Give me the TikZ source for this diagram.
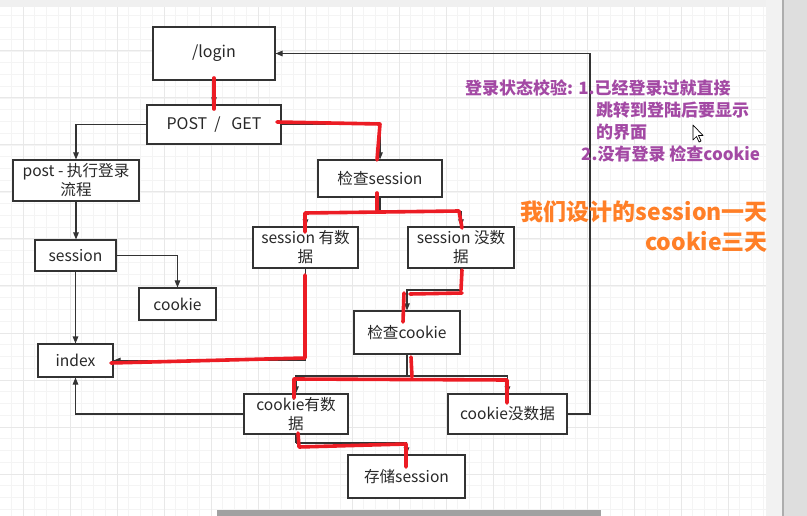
\documentclass[tikz,border=0pt]{standalone}
\usepackage{fontspec}
\setmainfont{Noto Sans CJK SC}
\usetikzlibrary{arrows.meta,calc}
\definecolor{boxc}{RGB}{51,51,51}
\definecolor{txtc}{RGB}{40,40,40}
\definecolor{linec}{RGB}{51,51,51}
\definecolor{hred}{RGB}{236,28,36}
\definecolor{purp}{RGB}{163,73,164}
\definecolor{orng}{RGB}{255,127,39}
\definecolor{gminor}{RGB}{244,244,244}
\definecolor{gmajor}{RGB}{232,232,232}
\begin{document}
\begin{tikzpicture}[x=1pt,y=-1pt,
  box/.style={draw=boxc, line width=1.1pt, fill=white, inner sep=0pt, align=center,
    font=\fontsize{15.6}{19}\selectfont, text=txtc},
  conn/.style={draw=linec, line width=1.1pt, -{Triangle[length=7pt,width=5.5pt]}},
  plain/.style={draw=linec, line width=1.1pt},
  hl/.style={draw=hred, line width=3.6pt, line cap=round, line join=round},
  note/.style={text=purp, font=\fontsize{17}{20}\selectfont\bfseries, inner sep=0pt, anchor=west},
  big/.style={text=orng, font=\fontsize{23}{27}\selectfont\bfseries, inner sep=0pt, anchor=east}]
\useasboundingbox (0,0) rectangle (807,516);
\fill[white] (0,0) rectangle (807,516);
% grid
\begin{scope}
\clip (0,7) rectangle (766,516);
\foreach \i in {-2,...,64} {\draw[gminor, line width=0.8pt] ({23+11.75*\i},7) -- ({23+11.75*\i},516);}
\foreach \j in {0,...,44} {\draw[gminor, line width=0.8pt] (0,{4+11.75*\j}) -- (766,{4+11.75*\j});}
\foreach \i in {0,...,15} {\draw[gmajor, line width=1pt] ({23+47*\i},7) -- ({23+47*\i},516);}
\foreach \j in {1,...,10} {\draw[gmajor, line width=1pt] (0,{4+47*\j}) -- (766,{4+47*\j});}
\end{scope}
% window chrome
\fill[black!6] (0,0) rectangle (766,7);
\fill[black!5] (766,0) rectangle (783,516);
\fill[black!13] (783,0) rectangle (807,516);
\draw[black!32, line width=1.5pt] (783,0) -- (783,516);
\fill[black!37] (217,509.5) rectangle (601,516);
% boxes
\node[box, minimum width=122pt, minimum height=53pt, font=\fontsize{16}{19}\selectfont] (login) at (214,53.5) {/login};
\node[box, minimum width=134pt, minimum height=39pt, font=\fontsize{16}{19}\selectfont] (pg) at (214,124.5) {POST\ \ /\ \ \ GET};
\node[box, minimum width=126pt, minimum height=41pt] (post) at (76,180.5) {post - 执行登录\\流程};
\node[box, minimum width=81pt, minimum height=31pt] (sess) at (75.5,255.5) {session};
\node[box, minimum width=77pt, minimum height=32pt] (cook) at (177.5,304) {cookie};
\node[box, minimum width=75pt, minimum height=33pt] (index) at (75.5,360.5) {index};
\node[box, minimum width=124pt, minimum height=37pt] (chks) at (380,178.5) {检查session};
\node[box, minimum width=105pt, minimum height=41pt] (sy) at (305.5,247.5) {session 有数\\据};
\node[box, minimum width=106pt, minimum height=41pt] (sn) at (461,247.5) {session 没数\\据};
\node[box, minimum width=106pt, minimum height=43pt] (chkc) at (407,332.5) {检查cookie};
\node[box, minimum width=104pt, minimum height=40pt] (cy) at (296,414) {cookie有数\\据};
\node[box, minimum width=119pt, minimum height=40pt] (cn) at (507.5,414) {cookie没数据};
\node[box, minimum width=117pt, minimum height=43pt] (store) at (406.5,476.5) {存储session};
% junctions
\coordinate (j1) at (380,212);
\coordinate (j2) at (461,290);
\coordinate (j3) at (407,376);
\coordinate (j4) at (296,443);
\coordinate (rr) at (590,53.5);
% connectors
\draw[conn] (login.south) -- (pg.north);
\draw[conn] (pg.west) -| (post.north);
\draw[conn] (pg.east) -| (chks.north);
\draw[conn] (post.south) -- (post.south |- sess.north);
\draw[conn] (sess.east) -| (cook.north);
\draw[conn] (sess.south) -- (sess.south |- index.north);
\draw[conn] (cy.west) -| (index.south);
\draw[plain] (chks.south) -- (j1);
\draw[conn] (j1) -| (sy.north);
\draw[conn] (j1) -| (sn.north);
\draw[conn] (sy.south) |- (index.east);
\draw[plain] (sn.south) -- (j2);
\draw[conn] (j2) -| (chkc.north);
\draw[plain] (chkc.south) -- (j3);
\draw[conn] (j3) -| (cy.north);
\draw[conn] (j3) -| (cn.north);
\draw[plain] (cy.south) -- (j4);
\draw[conn] (j4) -| (store.north);
\draw[conn] (cn.east) -| (rr) -- (login.east);
% red highlights
\draw[hl] (214,78) -- (214,109);
\draw[hl] (277,122) -- (380,124) -- (377,160);
\draw[hl] (377,193) -- (377,210);
\draw[hl] (305,232) -- (305,213) -- (459,211) -- (462,228);
\draw[hl] (305,275) -- (305,358) -- (111,363);
\draw[hl] (462,270) -- (461,290);
\draw[hl] (462,293) -- (410,294);
\draw[hl] (403,322) -- (404,293);
\draw[hl] (411,357) -- (412,377);
\draw[hl] (294,398) -- (294,379) -- (507,380) -- (507,403);
\draw[hl] (298,433) -- (299,447) -- (406,444) -- (406,467);
% notes
\node[note] (n1) at (465,88) {登录状态校验: 1.已经登录过就直接};
\node[note] (n2) at (596,110) {跳转到登陆后要显示};
\node[note] (n3) at (596,132) {的界面};
\node[note] (n4) at (581,154) {2.没有登录 检查cookie};
\node[big] (b1) at (768,212) {我们设计的session一天};
\node[big] (b2) at (768,242) {cookie三天};
% mouse cursor
\draw[black, fill=white, line width=0.7pt, line join=round]
  (693,125) -- (693,140) -- (696.5,136.5) -- (699,142) -- (701,141) -- (698.5,135.5) -- (703,135.5) -- cycle;
\end{tikzpicture}
\end{document}
